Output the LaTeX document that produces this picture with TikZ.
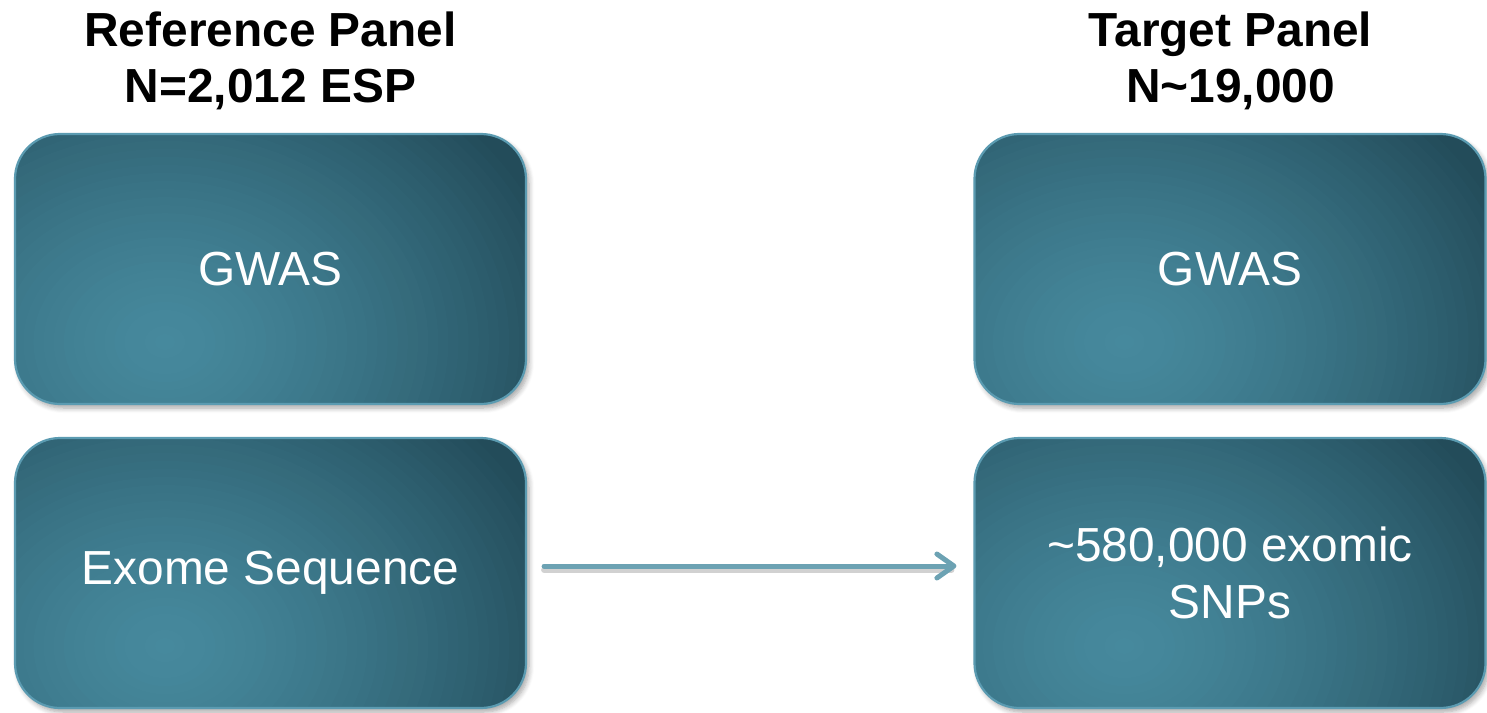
\documentclass[tikz,border=0pt]{standalone}
\usepackage{fontspec}
\setmainfont{Liberation Sans}
\usetikzlibrary{arrows.meta,shadows.blur}
\definecolor{boxborder}{HTML}{5B9BB1}
\definecolor{glowlight}{RGB}{70,137,157}
\definecolor{glowdark}{RGB}{35,76,90}
\definecolor{arrowcol}{HTML}{6CA2B3}
\tikzset{
  panelbox/.style={draw=boxborder, line width=2.2bp,
    rounded corners=45bp, minimum width=511bp, minimum height=270bp,
    inner sep=0pt, text=white, align=center,
    font=\fontsize{48}{57}\selectfont,
    path picture={
      \fill[glowdark] (path picture bounding box.south west) rectangle (path picture bounding box.north east);
      \path ([xshift=150bp,yshift=62bp]path picture bounding box.south west) coordinate (gc);
      \foreach \i in {0,...,40}{
        \pgfmathsetmacro\rr{1-\i/41}
        \pgfmathsetmacro\pp{100*(1-(\rr)^1.4)}
        \pgfmathsetmacro\rx{415*\rr}
        \pgfmathsetmacro\ry{330*\rr}
        \fill[glowlight!\pp!glowdark] (gc) ellipse [x radius=\rx bp, y radius=\ry bp];
      }
    },
    blur shadow={shadow xshift=3bp, shadow yshift=-4bp, shadow blur steps=6, shadow opacity=35, shadow blur radius=5bp}},
  paneltitle/.style={align=center, font=\bfseries\fontsize{48}{56}\selectfont, text=black},
  arr/.style={draw=arrowcol, line width=5bp, line cap=round,
    -{Straight Barb[length=17bp,width=24bp,round]}},
  arrshadow/.style={draw=black, opacity=0.18, line width=6bp, line cap=round}
}
\begin{document}
\begin{tikzpicture}[x=1bp,y=-1bp]
\useasboundingbox (0,0) rectangle (1487,713);
\node[paneltitle] (lt) at (270.5,61) {Reference Panel\\N=2,012 ESP};
\node[paneltitle] (rt) at (1230.5,61) {Target Panel\\N\textasciitilde19,000};
\node[panelbox] (la) at (270.5,269) {GWAS};
\node[panelbox] (lb) at (270.5,573) {Exome Sequence};
\node[panelbox] (ra) at (1230,269) {GWAS};
\node[panelbox] (rb) at (1230,573) {\textasciitilde580,000 exomic\\SNPs};
\draw[arrshadow] ([xshift=17bp,yshift=3bp]lb.east) -- ([xshift=-22bp,yshift=3bp]rb.west);
\draw[arr] ([xshift=17bp,yshift=7bp]lb.east) -- ([xshift=-17bp,yshift=7bp]rb.west);
\end{tikzpicture}
\end{document}
